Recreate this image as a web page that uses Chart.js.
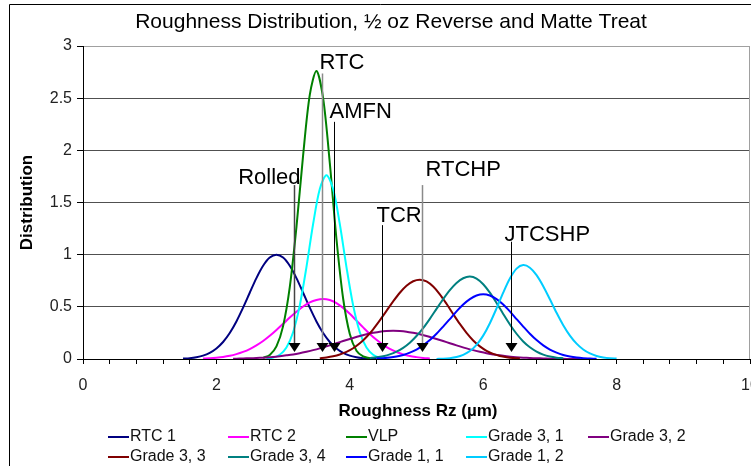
<!DOCTYPE html>
<html>
<head>
<meta charset="utf-8">
<script src="https://cdn.jsdelivr.net/npm/chart.js@4.4.1/dist/chart.umd.min.js"></script>
<style>
html, body { margin: 0; padding: 0; background: #fff; }
canvas { display: block; }
</style>
</head>
<body>
<canvas id="roughnessChart" width="751" height="466"></canvas>
<script>
// Distribution curves, one value every 0.1 um of Rz
var seriesLabels = ['RTC 1', 'RTC 2', 'VLP', 'Grade 3, 1', 'Grade 3, 2', 'Grade 3, 3', 'Grade 3, 4', 'Grade 1, 1', 'Grade 1, 2'];
var seriesStart = [1.5, 1.8, 2.7, 2.75, 2.25, 3.55, 4.3, 4.4, 5.3];

var rtc1 = [0.004, 0.008, 0.017, 0.032, 0.059, 0.101, 0.163, 0.249, 0.360, 0.492, 0.635, 0.775, 0.893, 0.972, 1.000,
            0.972, 0.893, 0.775, 0.635, 0.492, 0.360, 0.249, 0.163, 0.101, 0.059, 0.032, 0.017, 0.008, 0.004, 0.002];
var rtc2 = [0.005, 0.008, 0.013, 0.020, 0.031, 0.047, 0.068, 0.095, 0.130, 0.172, 0.222, 0.278, 0.337, 0.397, 0.453,
            0.503, 0.542, 0.566, 0.575, 0.565, 0.536, 0.490, 0.433, 0.368, 0.303, 0.240, 0.184, 0.136, 0.097, 0.067,
            0.044, 0.028, 0.018, 0.010, 0.006];
var vlp = [0.011, 0.039, 0.121, 0.315, 0.688, 1.264, 1.951, 2.531, 2.760, 2.500, 1.880, 1.150, 0.580, 0.240, 0.080,
           0.025, 0.007];
var grade31 = [0.003, 0.013, 0.041, 0.110, 0.257, 0.514, 0.881, 1.294, 1.630, 1.760, 1.630, 1.294, 0.881, 0.514,
               0.257, 0.110, 0.041, 0.013, 0.003];
var grade32 = [0.003, 0.004, 0.006, 0.008, 0.011, 0.015, 0.020, 0.027, 0.035, 0.044, 0.056, 0.070, 0.085, 0.102,
               0.121, 0.141, 0.162, 0.182, 0.202, 0.221, 0.238, 0.251, 0.262, 0.268, 0.270, 0.268, 0.262, 0.251,
               0.238, 0.221, 0.202, 0.182, 0.162, 0.141, 0.121, 0.102, 0.085, 0.070, 0.056, 0.044, 0.035, 0.027,
               0.020, 0.015, 0.011, 0.008, 0.006, 0.004, 0.003, 0.002, 0.001, 0.001, 0.001];
var grade33 = [0.008, 0.015, 0.026, 0.043, 0.068, 0.103, 0.150, 0.211, 0.285, 0.370, 0.461, 0.552, 0.635, 0.702,
               0.745, 0.760, 0.743, 0.694, 0.620, 0.529, 0.431, 0.336, 0.251, 0.178, 0.121, 0.079, 0.049, 0.029,
               0.017, 0.009, 0.005];
var grade34 = [0.009, 0.016, 0.027, 0.044, 0.070, 0.107, 0.156, 0.220, 0.296, 0.385, 0.480, 0.574, 0.660, 0.729,
               0.774, 0.790, 0.771, 0.717, 0.636, 0.537, 0.432, 0.331, 0.242, 0.168, 0.112, 0.071, 0.042, 0.024,
               0.013, 0.007];
var grade11 = [0.005, 0.008, 0.014, 0.024, 0.039, 0.061, 0.091, 0.131, 0.181, 0.242, 0.311, 0.383, 0.456, 0.522,
               0.574, 0.608, 0.620, 0.608, 0.574, 0.522, 0.456, 0.383, 0.311, 0.242, 0.181, 0.131, 0.091, 0.061,
               0.039, 0.024, 0.014, 0.008, 0.005, 0.002];
var grade12 = [0.001, 0.003, 0.008, 0.019, 0.040, 0.076, 0.136, 0.224, 0.343, 0.485, 0.636, 0.771, 0.866, 0.900,
               0.875, 0.804, 0.698, 0.572, 0.443, 0.324, 0.224, 0.147, 0.091, 0.053, 0.029, 0.015, 0.007, 0.004];
var seriesValues = [rtc1, rtc2, vlp, grade31, grade32, grade33, grade34, grade11, grade12];

// Arrow callouts: Rz position, where the arrow starts and where the text sits (distribution units)
var markerNames = ['Rolled', 'RTC', 'AMFN', 'TCR', 'RTCHP', 'JTCSHP'];
var markerRz = [3.17, 3.59, 3.77, 4.49, 5.08, 6.42];
var markerTop = [1.667, 2.737, 2.273, 1.283, 1.667, 1.124];
var markerTextY = [1.68, 2.78, 2.31, 1.315, 1.75, 1.13];
var markerTip = 0.067;

var titleText = 'Roughness Distribution, \u00BD oz Reverse and Matte Treat';
var xTitle = 'Roughness Rz (\u00B5m)';
var yTitle = 'Distribution';

var colors = ['#000080', '#FF00FF', '#008000', '#00FFFF', '#800080', '#800000', '#008080', '#0000FF', '#00CCFF'];
var markerColors = ['#444444', '#8a8a8a', '#000000', '#000000', '#8a8a8a', '#000000'];
// text offset from the arrow line (px) and alignment
var markerDx = [6, -3, -5, -6, 3, -7];
var markerAlign = ['right', 'left', 'left', 'left', 'left', 'left'];

var FONT = '"Liberation Sans", Arial, sans-serif';

var datasets = [];
seriesLabels.forEach(function(label, i) {
    var pts = seriesValues[i].map(function(v, j) {
        return { x: +(seriesStart[i] + j * 0.1).toFixed(2), y: v };
    });
    datasets.push({
        label: label,
        data: pts,
        borderColor: colors[i],
        backgroundColor: colors[i],
        borderWidth: 2,
        pointRadius: 0,
        tension: 0.3,
        fill: false,
        order: seriesLabels.length - i
    });
});

var decorations = {
    id: 'decorations',
    afterDraw: function(chart) {
        var ctx = chart.ctx;
        var xs = chart.scales.x, ys = chart.scales.y, area = chart.chartArea;
        ctx.save();

        // outer chart frame (only top and left are visible in the crop)
        ctx.strokeStyle = '#000';
        ctx.lineWidth = 1;
        ctx.beginPath();
        ctx.moveTo(9.5, 466);
        ctx.lineTo(9.5, 4.5);
        ctx.lineTo(751, 4.5);
        ctx.stroke();

        // plot area right border
        ctx.strokeStyle = '#a0a0a0';
        ctx.beginPath();
        ctx.moveTo(area.right - 0.5, area.top);
        ctx.lineTo(area.right - 0.5, area.bottom);
        ctx.stroke();

        // title
        ctx.fillStyle = '#000';
        ctx.font = '21px ' + FONT;
        ctx.textAlign = 'center';
        ctx.textBaseline = 'alphabetic';
        ctx.fillText(titleText, 391, 28);

        // axis titles
        ctx.font = 'bold 17px ' + FONT;
        ctx.textBaseline = 'middle';
        ctx.fillText(xTitle, 418, 411);
        ctx.save();
        ctx.translate(27, (area.top + area.bottom) / 2);
        ctx.rotate(-Math.PI / 2);
        ctx.fillText(yTitle, 0, 0);
        ctx.restore();

        // arrow callouts
        ctx.font = '22px ' + FONT;
        ctx.textBaseline = 'alphabetic';
        markerNames.forEach(function(name, i) {
            var px = Math.round(xs.getPixelForValue(markerRz[i])) + 0.5;
            var top = ys.getPixelForValue(markerTop[i]);
            var tip = ys.getPixelForValue(markerTip);
            ctx.strokeStyle = markerColors[i];
            ctx.lineWidth = markerColors[i] === '#000000' ? 1 : 1.5;
            ctx.beginPath();
            ctx.moveTo(px, top);
            ctx.lineTo(px, tip - 8);
            ctx.stroke();
            ctx.fillStyle = '#000';
            ctx.beginPath();
            ctx.moveTo(px - 6, tip - 9);
            ctx.lineTo(px + 6, tip - 9);
            ctx.lineTo(px, tip);
            ctx.closePath();
            ctx.fill();
            ctx.textAlign = markerAlign[i];
            ctx.fillText(name, px + markerDx[i], ys.getPixelForValue(markerTextY[i]));
        });

        // legend, two rows in fixed columns
        var cols = [108, 228, 346, 466, 588];
        var rows = [437, 457];
        ctx.font = '16px ' + FONT;
        ctx.textAlign = 'left';
        ctx.textBaseline = 'middle';
        chart.data.datasets.forEach(function(ds, i) {
            var cx = cols[i % 5], cy = rows[Math.floor(i / 5)];
            ctx.strokeStyle = ds.borderColor;
            ctx.lineWidth = 2;
            ctx.beginPath();
            ctx.moveTo(cx, cy);
            ctx.lineTo(cx + 21, cy);
            ctx.stroke();
            ctx.fillStyle = '#111';
            ctx.fillText(ds.label, cx + 22, cy);
        });
        ctx.restore();
    }
};

var ctx = document.getElementById('roughnessChart').getContext('2d');
new Chart(ctx, {
    type: 'line',
    data: { datasets: datasets },
    options: {
        responsive: false,
        animation: false,
        devicePixelRatio: 1,
        layout: { padding: { top: 46, right: 1, bottom: 0, left: 0 } },
        plugins: {
            legend: { display: false },
            title: { display: false },
            tooltip: { enabled: false }
        },
        scales: {
            x: {
                type: 'linear',
                min: 0,
                max: 10,
                afterFit: function(scale) {
                    scale.height = 107;
                    scale.paddingLeft = 0;
                    scale.paddingRight = 0;
                },
                ticks: {
                    stepSize: 0.4,
                    autoSkip: false,
                    maxRotation: 0,
                    padding: 12,
                    color: '#222',
                    font: { family: FONT, size: 16 },
                    callback: function(value) {
                        var half = value / 2;
                        return Math.abs(half - Math.round(half)) < 1e-6 ? String(Math.round(value)) : '';
                    }
                },
                grid: { drawOnChartArea: false, tickLength: 5, tickColor: '#000' },
                border: { color: '#000', width: 1 }
            },
            y: {
                min: 0,
                max: 3,
                afterFit: function(scale) {
                    scale.width = 83;
                    scale.paddingTop = 0;
                    scale.paddingBottom = 0;
                },
                ticks: {
                    stepSize: 0.5,
                    padding: 5,
                    color: '#222',
                    font: { family: FONT, size: 16 },
                    callback: function(value) { return String(value); }
                },
                grid: {
                    color: function(c) { return c.tick && c.tick.value === 3 ? '#a0a0a0' : '#505050'; },
                    tickLength: 6,
                    tickColor: '#000'
                },
                border: { color: '#000', width: 1 }
            }
        }
    },
    plugins: [decorations]
});
</script>
</body>
</html>
